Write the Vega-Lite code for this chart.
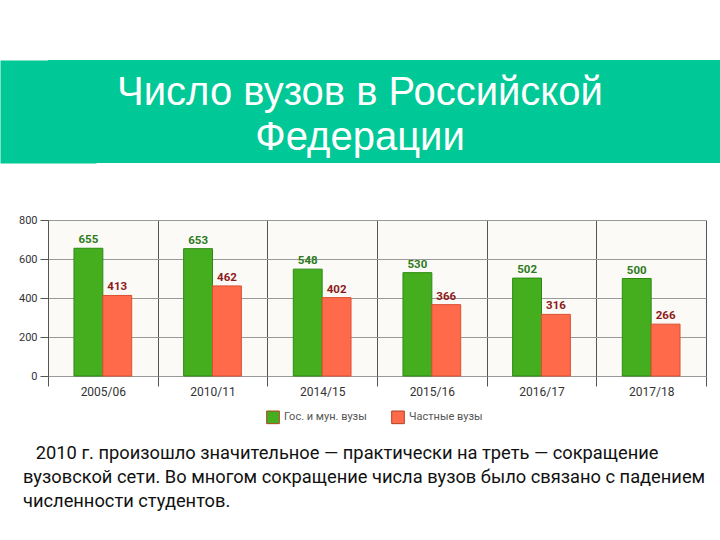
{
  "$schema": "https://vega.github.io/schema/vega-lite/v6.json",
  "background": "white",
  "padding": {"left": 0, "top": 60, "right": 0, "bottom": 0},
  "spacing": 51,
  "title": {
    "text": ["\u200b\u00a0\u00a0\u20092010 г. произошло значительное — практически на треть — сокращение", "вузовской сети. Во многом сокращение числа вузов было связано с падением", "численности студентов."],
    "orient": "bottom",
    "anchor": "start",
    "dx": 23,
    "offset": 19,
    "font": "Roboto",
    "fontSize": 18.3,
    "fontWeight": "normal",
    "color": "#111111",
    "lineHeight": 24
  },
  "vconcat": [
    {
      "width": 672,
      "height": 103,
      "view": {"fill": "#00c896", "stroke": null},
      "data": {"values": [{"title": "Число вузов в Российской\nФедерации"}]},
      "mark": {"type": "text", "font": "Liberation Sans", "fontSize": 40, "color": "white", "lineBreak": "\n", "lineHeight": 45, "align": "center", "baseline": "middle", "dx": -24, "dy": -19},
      "encoding": {
        "text": {"field": "title"},
        "y": {
          "field": "title", "type": "nominal",
          "axis": {"title": null, "labels": false, "ticks": false, "grid": false, "domain": true, "domainColor": "#00c896", "domainWidth": 96, "minExtent": 48}
        }
      }
    },
    {
      "width": 658,
      "height": 156,
      "view": {"fill": "#fbfaf6", "stroke": null},
      "data": {"values": [
        {"period": "2005/06", "type": "Гос. и мун. вузы", "value": 655},
        {"period": "2005/06", "type": "Частные вузы", "value": 413},
        {"period": "2010/11", "type": "Гос. и мун. вузы", "value": 653},
        {"period": "2010/11", "type": "Частные вузы", "value": 462},
        {"period": "2014/15", "type": "Гос. и мун. вузы", "value": 548},
        {"period": "2014/15", "type": "Частные вузы", "value": 402},
        {"period": "2015/16", "type": "Гос. и мун. вузы", "value": 530},
        {"period": "2015/16", "type": "Частные вузы", "value": 366},
        {"period": "2016/17", "type": "Гос. и мун. вузы", "value": 502},
        {"period": "2016/17", "type": "Частные вузы", "value": 316},
        {"period": "2017/18", "type": "Гос. и мун. вузы", "value": 500},
        {"period": "2017/18", "type": "Частные вузы", "value": 266}
      ]},
      "encoding": {
        "x": {
          "field": "period", "type": "nominal", "sort": null,
          "scale": {"paddingInner": 0, "paddingOuter": 0},
          "axis": {
            "title": null, "labelAngle": 0, "tickBand": "extent", "grid": true,
            "gridColor": "#555555", "gridWidth": 1, "domain": false,
            "tickSize": 10, "tickColor": "#555555", "labelPadding": 0,
            "labelFont": "Roboto", "labelFontSize": 12, "labelColor": "#333333"
          }
        },
        "xOffset": {"field": "type", "type": "nominal", "scale": {"paddingInner": 0, "paddingOuter": 0.9}},
        "y": {
          "field": "value", "type": "quantitative",
          "scale": {"domain": [0, 800], "nice": false},
          "axis": {
            "title": null, "values": [0, 200, 400, 600, 800], "grid": true,
            "gridColor": "#999999", "domainColor": "#555555", "tickColor": "#555555",
            "tickSize": 8, "labelPadding": 3, "minExtent": 48,
            "labelFont": "Roboto", "labelFontSize": 11, "labelColor": "#333333"
          }
        }
      },
      "layer": [
        {
          "mark": {"type": "bar", "strokeWidth": 1},
          "encoding": {
            "color": {
              "field": "type", "type": "nominal",
              "scale": {"domain": ["Гос. и мун. вузы", "Частные вузы"], "range": ["#45ae1f", "#ff6a4a"]},
              "legend": {
                "title": null, "orient": "none", "legendX": 218, "legendY": 350, "padding": 0,
                "direction": "horizontal",
                "symbolType": "square", "symbolSize": 160, "symbolOpacity": 1,
                "symbolStrokeWidth": 1, "symbolStrokeColor": "#b04020",
                "labelFont": "Roboto", "labelFontSize": 11, "labelColor": "#555555",
                "columnPadding": 22
              }
            },
            "stroke": {
              "condition": {"test": "datum.type === 'Частные вузы'", "value": "#d9502e"},
              "value": "#2c8a12"
            }
          }
        },
        {
          "mark": {"type": "text", "font": "Roboto", "fontSize": 11.5, "fontWeight": "bold", "baseline": "bottom", "dy": -3},
          "encoding": {
            "text": {"field": "value", "type": "quantitative"},
            "color": {
              "condition": {"test": "datum.type === 'Частные вузы'", "value": "#8e1b1b"},
              "value": "#2e7a1c"
            }
          }
        }
      ]
    }
  ]
}
